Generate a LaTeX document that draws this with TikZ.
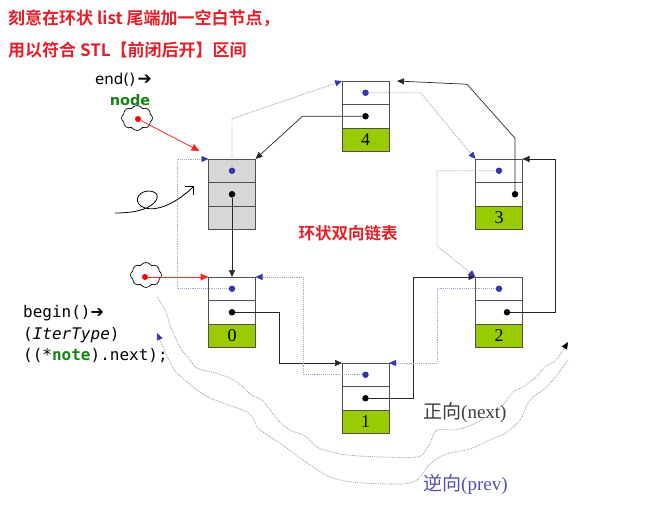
\documentclass[tikz,border=0pt]{standalone}
\usepackage{fontspec}
\setmainfont{Liberation Serif}
\newfontfamily\cjk{Noto Sans CJK SC}[BoldFont={Noto Sans CJK SC Bold}]
\newfontfamily\codefont{DejaVu Sans Mono}
\newfontfamily\symfont{DejaVu Sans}
\usepackage{xcolor}
\usetikzlibrary{shapes.symbols, arrows.meta, positioning, calc}

\definecolor{titlered}{RGB}{230,30,40}
\definecolor{boxgreen}{RGB}{153,204,0}
\definecolor{headgray}{RGB}{215,215,215}
\definecolor{boxline}{RGB}{80,80,80}
\definecolor{dotblue}{RGB}{55,55,170}
\definecolor{linegray}{RGB}{165,165,200}
\definecolor{codegreen}{RGB}{20,130,20}
\definecolor{prevblue}{RGB}{80,80,180}
\definecolor{nextgray}{RGB}{60,60,60}

\begin{document}
\begin{tikzpicture}[x=1pt, y=-1pt,
  cell/.style={draw=boxline, line width=0.8pt, minimum width=47pt, minimum height=23.5pt, inner sep=0pt, outer sep=0pt},
  headcell/.style={cell, fill=headgray},
  datacell/.style={cell, fill=boxgreen, font=\fontsize{18}{18}\selectfont},
  bdot/.style={circle, fill=dotblue, inner sep=0pt, minimum size=6.5pt},
  kdot/.style={circle, fill=black, inner sep=0pt, minimum size=6.5pt},
  reddot/.style={circle, fill=red, inner sep=0pt, minimum size=6pt},
  puff/.style={cloud, draw, line width=0.7pt, cloud puffs=8, cloud puff arc=120, aspect=1.3, inner sep=0pt, minimum width=31pt, minimum height=25pt},
  nextline/.style={draw=black!85, line width=0.7pt, -{Triangle[length=7pt, width=6pt]}},
  prevline/.style={draw=linegray, densely dotted, line width=0.9pt, -{Triangle[length=7pt, width=6pt, color=dotblue]}},
  redline/.style={draw=red!85, line width=0.8pt, -{Triangle[length=8pt, width=7pt]}},
  wavy/.style={draw=black!40, densely dotted, line width=0.8pt},
  codetext/.style={font=\codefont\fontsize{16}{18}\selectfont, inner sep=0pt, anchor=west}]
\useasboundingbox (0,0) rectangle (649,531);

% title
\node[anchor=west, inner sep=0pt, text=titlered, font=\cjk\bfseries\fontsize{17}{20}\selectfont] (title1) at (8,18) {刻意在环状 list 尾端加一空白节点，};
\node[anchor=west, inner sep=0pt, text=titlered, font=\cjk\bfseries\fontsize{17}{20}\selectfont] (title2) at (8,50) {用以符合 STL【前闭后开】区间};

% empty node at the tail
\node[headcell, anchor=north] (pE) at (232,159) {};
\node[headcell, below=0pt of pE] (nE) {};
\node[headcell, below=0pt of nE] (dE) {};
% node 0
\node[cell, anchor=north] (p0) at (232,277) {};
\node[cell, below=0pt of p0] (n0) {};
\node[datacell, below=0pt of n0] (d0) {0};
% node 1
\node[cell, anchor=north] (p1) at (365.5,363) {};
\node[cell, below=0pt of p1] (n1) {};
\node[datacell, below=0pt of n1] (d1) {1};
% node 2
\node[cell, anchor=north] (p2) at (499,277) {};
\node[cell, below=0pt of p2] (n2) {};
\node[datacell, below=0pt of n2] (d2) {2};
% node 3
\node[cell, anchor=north] (p3) at (499,159) {};
\node[cell, below=0pt of p3] (n3) {};
\node[datacell, below=0pt of n3] (d3) {3};
% node 4
\node[cell, anchor=north] (p4) at (365.5,81) {};
\node[cell, below=0pt of p4] (n4) {};
\node[datacell, below=0pt of n4] (d4) {4};

% prev / next pointers
\node[bdot] (bE) at (pE) {};
\node[kdot] (kE) at (nE) {};
\node[bdot] (b0) at (p0) {};
\node[kdot] (k0) at (n0) {};
\node[bdot] (b1) at (p1) {};
\node[kdot] (k1) at (n1) {};
\node[bdot] (b2) at (p2) {};
\node[kdot] (k2) at ([xshift=8pt]n2.center) {};
\node[bdot] (b3) at (p3) {};
\node[kdot] (k3) at ([xshift=16pt]n3.center) {};
\node[bdot] (b4) at (p4) {};
\node[kdot] (k4) at (n4) {};

% next (solid)
\draw[nextline] (kE) -- (p0.north);
\draw[nextline] (k0) -- ++(47,0) |- (p1.north west);
\draw[nextline] (k1) -- ++(47.5,0) |- (p2.north west);
\draw[nextline] (k2) -- ++(48,0) |- (p3.north east);
\draw[nextline] (k3) -- ++(0,-56) -- ++(-48,-54) -- ($(p4.north east)+(8,0)$);
\draw[nextline] (k4) -- ++(-63,0) -- (pE.north east);

% prev (dotted)
\draw[prevline] (bE) -- ++(0,-52) -- (p4.north west);
\draw[prevline] (b4) -- ++(55,0) -- (p3.north west);
\draw[prevline] (b3) -- ++(-62,0) -- ++(0,75) -- (p2.north west);
\draw[prevline] (b2) -- ++(-62,0) |- (p1.north east);
\draw[prevline] (b1) -- ++(-62.5,0) |- (p0.north east);
\draw[prevline] (b0) -- ++(-55,0) |- (pE.north west);

% iterators
\node[puff] (cloudA) at (137,118) {};
\node[reddot] (rA) at (138,119) {};
\draw[redline] (rA) -- ($(pE.north west)+(-9,-8)$);
\node[puff] (cloudB) at (146,275) {};
\node[reddot] (rB) at (145,277) {};
\draw[redline] (rB) -- (p0.north west);

\node[anchor=west, inner sep=0pt, font=\symfont\fontsize{15}{17}\selectfont] (endtxt) at (95,80) {end()\,{\bfseries\fontsize{17}{17}\selectfont ➔}};
\node[inner sep=0pt, text=codegreen, font=\symfont\bfseries\fontsize{14.5}{16}\selectfont] (nodetxt) at (130,100) {node};
\node[codetext] (begin1) at (23,313) {begin(){\symfont\bfseries ➔}};
\node[codetext] (begin2) at (23,335) {(\textit{IterType})};
\node[codetext] (begin3) at (23,356) {((*\textcolor{codegreen}{\bfseries note}).next);};

% squiggle
\draw[line width=0.8pt, -{Straight Barb[length=6pt]}] (115,213) .. controls (130,213) and (142,211) .. (150,206)
  .. controls (160,200) and (160,191) .. (148,191) .. controls (136,192) and (133,204) .. (145,208)
  .. controls (160,212) and (180,200) .. (194,186);

\node[text=titlered, font=\cjk\bfseries\fontsize{16.5}{18}\selectfont] (ring) at (348,233) {环状双向链表};

% direction curves
\draw[wavy, -{Triangle[length=7pt, width=6pt, color=black]}] plot[smooth, tension=0.55] coordinates {(157,297) (166,312) (170,325) (180,347) (190,360) (197,368) (215,373) (230,378) (242,386) (250,394) (262,400) (270,410) (280,422) (290,430) (305,436) (317,447) (332,452) (347,455) (380,457) (417,457) (426,450) (430,443) (437,430) (452,430) (467,427) (485,418) (503,405) (513,392) (523,387) (535,378) (545,367) (556,360) (568,342)};
\draw[wavy, {Triangle[length=7pt, width=6pt, color=dotblue]}-] plot[smooth, tension=0.55] coordinates {(157,333) (163,347) (170,362) (177,373) (197,390) (210,398) (223,403) (247,412) (254,420) (257,427) (270,437) (280,443) (292,452) (303,460) (318,470) (330,477) (345,481) (363,483) (400,484) (417,480) (427,467) (438,458) (450,453) (470,449) (490,440) (507,432) (520,420) (527,405) (533,397) (543,390) (553,380) (568,360)};
\node[anchor=west, inner sep=0pt, text=nextgray, font=\fontsize{19}{21}\selectfont] (nexttxt) at (423,413) {{\cjk 正向}(next)};
\node[anchor=west, inner sep=0pt, text=prevblue, font=\fontsize{19}{21}\selectfont] (prevtxt) at (423,484) {{\cjk 逆向}(prev)};
\end{tikzpicture}
\end{document}
